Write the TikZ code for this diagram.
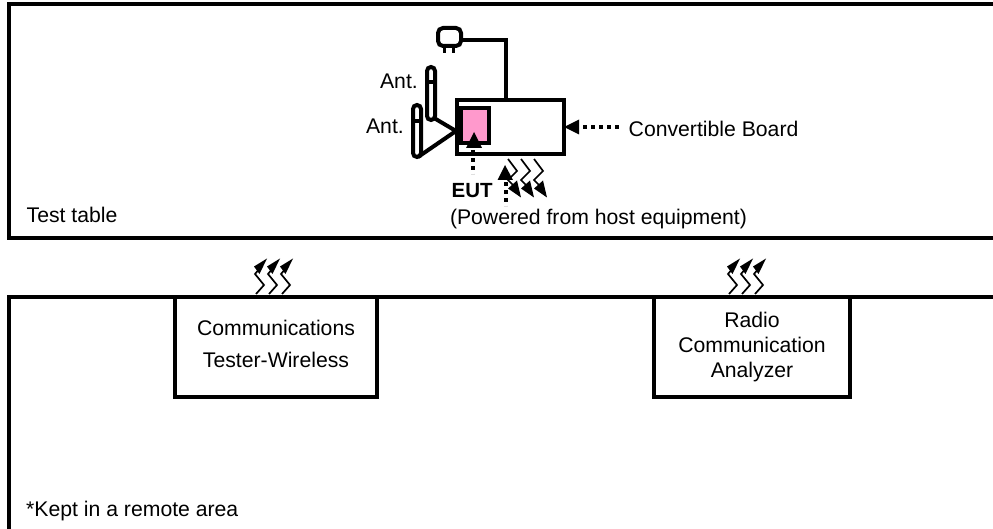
\documentclass[tikz,border=0pt]{standalone}
\usepackage{fontspec}
\setmainfont{Liberation Sans}
\usetikzlibrary{arrows.meta}
\definecolor{eutpink}{HTML}{FF99CC}
\tikzset{
  x=1pt,y=-1pt,
  thick line/.style={line width=4pt,draw=black},
  lbl/.style={font=\fontsize{21.2}{24.7}\selectfont,inner sep=0pt,align=center},
  boxed/.style={draw,line width=4pt,fill=white,inner sep=0pt,anchor=north west},
  dots/.style={line width=4pt,dash pattern=on 4pt off 4pt},
  tip/.style={fill=black,draw=none},
  zig/.style={line width=1.7pt,draw=black},
}
\newcommand{\zigup}[2]{%
  \draw[zig] (#1,#2) -- ++(8,-9) -- ++(-9,-11) -- ++(5,-6);
  \fill[tip] (#1+11,#2-35.5) -- ++(-13,8) -- ++(5.5,7.5) -- cycle;}
\newcommand{\zigdown}[2]{%
  \draw[zig] (#1,#2) -- ++(9,12) -- ++(-9,9) -- ++(6,6);
  \fill[tip] (#1+13,#2+38.5) -- ++(-13,-9) -- ++(9,-8) -- cycle;}
\begin{document}
\begin{tikzpicture}
\useasboundingbox (0,0) rectangle (993,529);
\draw[thick line] (993,4) -- (9,4) -- (9,238) -- (993,238);
\node[lbl,anchor=base west] (table) at (26.5,223) {Test table};
% plug
\draw[line width=3pt] (444,46) -- (444,53) (453,46) -- (453,53);
\node[draw,line width=4pt,rounded corners=5pt,fill=white,minimum width=23pt,minimum height=18pt,inner sep=0pt,anchor=north west] (plug) at (436,26) {};
% board
\node[boxed,minimum width=107pt,minimum height=54pt] (board) at (455,98) {};
\draw[line width=4pt] (plug.east |- 0,40) -- (506,40) -- (board.north -| 506,0);
\node[boxed,fill=eutpink,minimum width=28pt,minimum height=35pt] (eut) at (459,106) {};
% antennas
\draw[line width=4pt,rounded corners=4pt,fill=white] (427,67) rectangle (435,120);
\draw[line width=4pt] (427,82) -- (435,82);
\draw[line width=4pt,rounded corners=4pt,fill=white] (413,105) rectangle (421,157);
\draw[line width=4pt] (413,121.5) -- (421,121.5);
\coordinate (apex) at (456,131);
\draw[line width=4pt] (434,118) -- (apex) -- (418,157);
\node[lbl,anchor=base east] (ant1) at (418,89) {Ant.};
\node[lbl,anchor=base east] (ant2) at (404,134) {Ant.};
% EUT pointer
\fill[tip] (474,132) -- (466,148) -- (482,148) -- cycle;
\draw[dots] (473,150) -- (473,174);
\node[lbl,font=\fontsize{20.5}{24}\selectfont\bfseries,anchor=base west] (eutl) at (451.5,198) {EUT};
% Convertible pointer
\fill[tip] (564,127) -- (579,119.5) -- (579,134.5) -- cycle;
\draw[dots] (583,127) -- (620,127);
\node[lbl,anchor=base west] (conv) at (628.5,136.5) {Convertible Board};
% waves down
\zigdown{508}{159}\zigdown{521}{159}\zigdown{534}{159}
% power pointer
\fill[tip] (505,165) -- (497.5,180) -- (513,180) -- cycle;
\draw[dots] (506,182) -- (506,206);
\node[lbl,anchor=base west] (powered) at (449.8,225) {(Powered from host equipment)};
% lower frame
\draw[thick line] (993,297) -- (9,297) -- (9,529);
\node[boxed,lbl,minimum width=202pt,minimum height=100pt] (ct) at (173,295) {Communications\\[7.6pt]Tester-Wireless\rule[-7pt]{0pt}{7pt}};
\node[boxed,lbl,minimum width=196pt,minimum height=100pt] (rca) at (652,295) {Radio\\Communication\\Analyzer};
\node[lbl,anchor=base west] (remote) at (26,516) {*Kept in a remote area};
% waves up
\zigup{256}{294}\zigup{269}{294}\zigup{282}{294}
\zigup{729}{294}\zigup{742}{294}\zigup{755}{294}
\end{tikzpicture}
\end{document}
